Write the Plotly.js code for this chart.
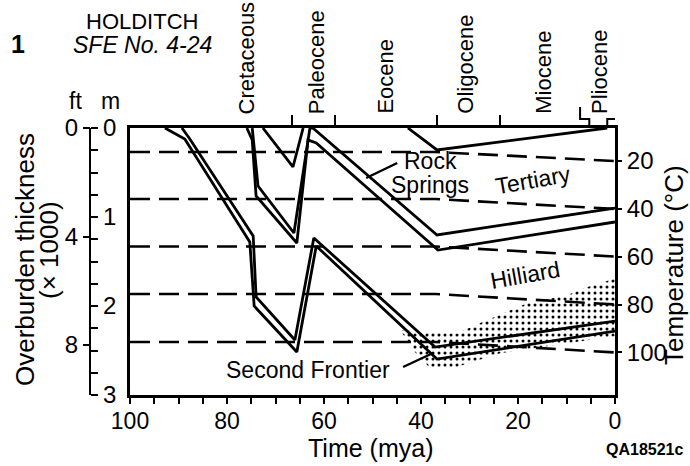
<!DOCTYPE html>
<html>
<head>
<meta charset="utf-8">
<script src="https://cdn.plot.ly/plotly-3.0.1.min.js"></script>
<style>html,body{margin:0;padding:0;background:#fff}</style>
</head>
<body>
<div id="chart" style="width:690px;height:466px"></div>
<script>
// ---- Geologic time scale (mya) ----
const epochNames = ['Cretaceous', 'Paleocene', 'Eocene', 'Oligocene', 'Miocene', 'Pliocene'];
const epochLabelAge = [75.9, 61.6, 47.4, 30.9, 14.8, 3.3];
const epochBoundaries = [66.5, 57.8, 36.6, 23.7];
const plioceneSpan = [5.3, 1.6];

// ---- Burial history: age (mya) vs. overburden thickness (km) ----
const frontierBaseAge = [92.8, 88.7, 75.3, 74.4, 65.6, 61.6, 36.7, 0];
const frontierBaseDepth = [0, 0.124, 1.281, 2.0, 2.517, 1.326, 2.596, 2.281];
const frontierTopAge = [89.3, 87.8, 74.6, 74.0, 66.0, 62.1, 37.1, 0];
const frontierTopDepth = [0, 0.112, 1.213, 1.899, 2.382, 1.236, 2.461, 2.169];

const rockSpringsBaseAge = [75.9, 74.8, 74.0, 65.6, 63.3, 61.6, 36.5, 0];
const rockSpringsBaseDepth = [0, 0.135, 0.764, 1.292, 0.135, 0.169, 1.371, 1.056];
const rockSpringsTopAge = [74.8, 74.6, 73.6, 66.2, 62.9, 62.3, 36.7, 0];
const rockSpringsTopDepth = [0, 0.112, 0.652, 1.180, 0, 0, 1.202, 0.899];

const upperCretAge = [72.6, 66.4, 64.3];
const upperCretDepth = [0, 0.438, 0];

const tertiaryBaseAge = [42.7, 36.7, 1.6];
const tertiaryBaseDepth = [0, 0.247, 0];

// ---- Isotherms (°C): depth held until isoChangeAge, then to present ----
const isoTemps = [20, 40, 60, 80, 100];
const isoChangeAge = 37;
const isoDepthPast = [0.270, 0.798, 1.331, 1.865, 2.404];
const isoDepthPresent = [0.371, 0.910, 1.444, 1.983, 2.522];

// ---- Stippled zone outline ----
const zoneAge = [44.3, 32.6, 27.8, 18.1, 9.9, 5.8, 0, 0, 11.3, 23.7, 33.0, 38.1, 41.2];
const zoneDepth = [2.27, 2.31, 2.19, 1.97, 1.88, 1.79, 1.69, 2.34, 2.43, 2.53, 2.69, 2.70, 2.52];

// ---- Unit labels and leaders ----
const unitLabels = ['Rock', 'Springs', 'Tertiary', 'Hilliard', 'Second Frontier'];
const unitLabelAge = [38.1, 38.1, 16.9, 18.6, 63.3];
const unitLabelDepth = [0.37, 0.64, 0.58, 1.65, 2.72];
const unitLabelAngle = [0, 0, -10, -10, 0];
const rsLeaderAge = [44.9, 51.3];
const rsLeaderDepth = [0.393, 0.562];
const sfLeaderAge = [43.7, 37.5];
const sfLeaderDepth = [2.685, 2.528];

// ---- Page geometry ----
const W = 690, H = 466;
const FONT = '"Liberation Sans", Arial, Helvetica, sans-serif';
const px = v => v / W;          // horizontal pixel -> paper fraction
const py = v => 1 - v / H;      // vertical pixel -> paper fraction
const plotTop = 128, plotBottom = 395, plotLeft = 130, plotRight = 615;
const MAX_KM = 3;

// temperature scale matching the present-day isotherms on the right edge
const kmPerDeg = (isoDepthPresent[4] - isoDepthPresent[0]) / (isoTemps[4] - isoTemps[0]);
const tempTop = isoTemps[0] - isoDepthPresent[0] / kmPerDeg;
const tempBottom = tempTop + MAX_KM / kmPerDeg;

const traces = [];

// stippled zone
traces.push({
  x: zoneAge, y: zoneDepth, type: 'scatter', mode: 'none', fill: 'toself',
  fillcolor: 'rgba(0,0,0,0)',
  fillpattern: {shape: '.', size: 6, solidity: 0.2, fgcolor: '#000', fillmode: 'replace'},
  hoverinfo: 'skip'
});

// isotherms
isoTemps.forEach((t, i) => {
  traces.push({
    x: [100, isoChangeAge, 0], y: [isoDepthPast[i], isoDepthPast[i], isoDepthPresent[i]],
    type: 'scatter', mode: 'lines',
    line: {color: '#000', width: 2.6, dash: '20px,9px'}, hoverinfo: 'skip'
  });
});

// burial curves
const burial = [
  [frontierBaseAge, frontierBaseDepth], [frontierTopAge, frontierTopDepth],
  [rockSpringsBaseAge, rockSpringsBaseDepth], [rockSpringsTopAge, rockSpringsTopDepth],
  [upperCretAge, upperCretDepth], [tertiaryBaseAge, tertiaryBaseDepth]
];
burial.forEach(([a, d]) => {
  traces.push({x: a, y: d, type: 'scatter', mode: 'lines',
    line: {color: '#000', width: 2.8}, cliponaxis: false, hoverinfo: 'skip'});
});

// leader lines
[[rsLeaderAge, rsLeaderDepth], [sfLeaderAge, sfLeaderDepth]].forEach(([a, d]) => {
  traces.push({x: a, y: d, type: 'scatter', mode: 'lines',
    line: {color: '#000', width: 2.4}, hoverinfo: 'skip'});
});

// empty traces so that the auxiliary axes are drawn
traces.push({x: [null], y: [null], yaxis: 'y2', mode: 'lines', hoverinfo: 'skip'});
traces.push({x: [null], y: [null], yaxis: 'y3', mode: 'lines', hoverinfo: 'skip'});
traces.push({x: [null], y: [null], yaxis: 'y4', mode: 'lines', hoverinfo: 'skip'});
traces.push({x: [null], y: [null], xaxis: 'x2', mode: 'lines', hoverinfo: 'skip'});

const tickFont = {family: FONT, size: 24, color: '#000'};
const yDomain = [py(plotBottom), py(plotTop)];

const layout = {
  width: W, height: H,
  margin: {l: 0, r: 0, t: 0, b: 0},
  paper_bgcolor: '#fff', plot_bgcolor: '#fff',
  showlegend: false,
  font: {family: FONT, color: '#000', size: 24},
  xaxis: {
    domain: [px(plotLeft), px(plotRight)], range: [100, 0],
    showgrid: false, zeroline: false,
    showline: true, mirror: true, linewidth: 2.6, linecolor: '#000',
    tickmode: 'linear', tick0: 0, dtick: 20,
    ticks: 'outside', ticklen: 6, tickwidth: 2, tickcolor: '#000',
    ticklabelstandoff: -2,
    minor: {dtick: 5, ticks: 'outside', ticklen: 6, tickwidth: 2, tickcolor: '#000', showgrid: false},
    tickfont: {family: FONT, size: 23, color: '#000'}, fixedrange: true
  },
  xaxis2: {
    overlaying: 'x', side: 'top', anchor: 'y', range: [100, 0],
    tickmode: 'array', tickvals: epochBoundaries,
    ticks: 'outside', ticklen: 12, tickwidth: 2, tickcolor: '#000',
    showticklabels: false, showline: false, showgrid: false, zeroline: false
  },
  yaxis: {
    domain: yDomain, range: [MAX_KM, 0],
    showline: true, mirror: true, linewidth: 2.6, linecolor: '#000',
    showticklabels: false, ticks: '', showgrid: false, zeroline: false
  },
  yaxis2: {
    overlaying: 'y', anchor: 'free', position: px(90), side: 'right',
    range: [MAX_KM, 0], showline: true, linewidth: 2.2, linecolor: '#000',
    tickmode: 'linear', tick0: 0, dtick: 1,
    ticks: 'outside', ticklen: 7, tickwidth: 2, tickcolor: '#000',
    minor: {dtick: 0.25, ticks: 'outside', ticklen: 7, tickwidth: 2, tickcolor: '#000', showgrid: false},
    tickfont: tickFont, showgrid: false, zeroline: false
  },
  yaxis3: {
    overlaying: 'y', anchor: 'free', position: px(90), side: 'left',
    range: [MAX_KM / 0.3048, 0], showline: false,
    tickmode: 'array', tickvals: [0, 4, 8],
    ticks: 'outside', ticklen: 7, tickwidth: 2, tickcolor: '#000',
    tickfont: tickFont, showgrid: false, zeroline: false
  },
  yaxis4: {
    overlaying: 'y', anchor: 'x', side: 'right',
    range: [tempBottom, tempTop], showline: false,
    tickmode: 'array', tickvals: isoTemps,
    ticks: 'outside', ticklen: 6, tickwidth: 2, tickcolor: '#000',
    tickfont: tickFont, showgrid: false, zeroline: false
  },
  shapes: [
    // Pliocene bracket on the top edge
    {type: 'path', xref: 'x', yref: 'paper',
     path: `M${plioceneSpan[0] + 1.9},${py(107)} L${plioceneSpan[0] + 1.9},${py(119)} L${plioceneSpan[0]},${py(119)} L${plioceneSpan[0]},${py(plotTop)}`,
     line: {color: '#000', width: 2}},
    {type: 'path', xref: 'x', yref: 'paper',
     path: `M${plioceneSpan[1]},${py(plotTop)} L${plioceneSpan[1]},${py(119)} L${plioceneSpan[1] - 2.6},${py(119)} L${plioceneSpan[1] - 2.6},${py(107)}`,
     line: {color: '#000', width: 2}}
  ],
  annotations: []
};

const ann = layout.annotations;
const txt = (text, x, y, opts = {}) => ann.push(Object.assign({
  text, x, y, xref: 'paper', yref: 'paper', showarrow: false,
  xanchor: 'center', yanchor: 'middle', font: {family: FONT, size: 24, color: '#000'}
}, opts));

// header
txt('<b>1</b>', px(18), py(44), {font: {family: FONT, size: 25, color: '#000'}});
txt('HOLDITCH', px(142), py(22), {font: {family: FONT, size: 22, color: '#000'}});
txt('<i>SFE No. 4-24</i>', px(142), py(45), {font: {family: FONT, size: 23, color: '#000'}});
txt('ft', px(75), py(101), {font: {family: FONT, size: 23, color: '#000'}});
txt('m', px(111), py(101), {font: {family: FONT, size: 23, color: '#000'}});

// axis titles
txt('Overburden thickness', px(25), py(260), {textangle: -90, font: {family: FONT, size: 26, color: '#000'}});
txt('(× 1000)', px(49), py(250), {textangle: -90, font: {family: FONT, size: 26, color: '#000'}});
txt('Temperature (°C)', px(674), py(265), {textangle: -90, font: {family: FONT, size: 26, color: '#000'}});
txt('Time (mya)', px(370), py(448), {font: {family: FONT, size: 25, color: '#000'}});
txt('<b>QA18521c</b>', px(644), py(449), {font: {family: FONT, size: 16, color: '#000'}});

// epoch names along the top edge
epochNames.forEach((n, i) => {
  ann.push({text: n, x: epochLabelAge[i], y: py(116), xref: 'x', yref: 'paper',
    showarrow: false, textangle: -90, xanchor: 'center', yanchor: 'bottom',
    font: {family: FONT, size: 22, color: '#000'}});
});

// unit labels
unitLabels.forEach((n, i) => {
  ann.push({text: n, x: unitLabelAge[i], y: unitLabelDepth[i], xref: 'x', yref: 'y',
    showarrow: false, textangle: unitLabelAngle[i], xanchor: 'center', yanchor: 'middle',
    font: {family: FONT, size: 23, color: '#000'}});
});

Plotly.newPlot('chart', traces, layout, {staticPlot: true, displayModeBar: false});
</script>
</body>
</html>
